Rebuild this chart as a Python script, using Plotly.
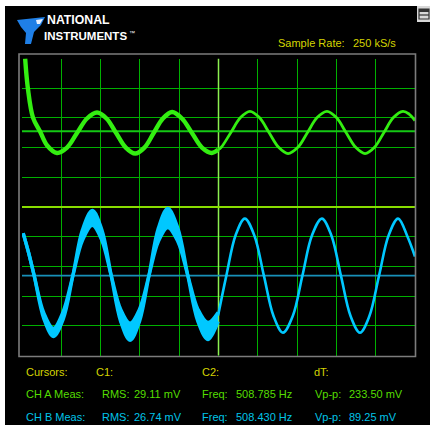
import plotly.graph_objects as go

# ---------------- data (time in ms, amplitude in screen divisions) ----------------
GREEN_L_T = [0.08, 0.15, 0.28, 0.46, 0.64, 0.89, 1.145, 1.40, 1.655, 1.91, 2.15, 2.395, 2.64, 2.88,
             3.115, 3.35, 3.585, 3.82, 4.07, 4.325, 4.58, 4.83, 4.99]
GREEN_L_V = [5.00, 3.99, 3.01, 2.54, 2.07, 1.82, 2.00, 2.49, 2.98, 3.18, 2.98, 2.49, 2.00, 1.80,
             2.00, 2.49, 2.98, 3.20, 2.98, 2.49, 2.00, 1.82, 1.93]
GREEN_R_T = [4.99, 5.07, 5.315, 5.56, 5.80, 6.04, 6.285, 6.53, 6.77, 7.02, 7.265, 7.51, 7.76, 8.00,
             8.245, 8.49, 8.73, 8.97, 9.21, 9.45, 9.69, 9.85, 10.0]
GREEN_R_V = [1.93, 2.01, 2.51, 3.01, 3.22, 3.01, 2.51, 2.01, 1.80, 2.01, 2.51, 3.01, 3.22, 3.01,
             2.51, 2.01, 1.80, 2.01, 2.51, 3.01, 3.22, 3.13, 2.91]

BLUE_L_T = [0.03, 0.17, 0.31, 0.555, 0.80, 1.045, 1.295, 1.54, 1.79, 2.03, 2.27, 2.51, 2.75, 2.99,
            3.23, 3.47, 3.71, 3.965, 4.22, 4.475, 4.73, 4.99]
BLUE_L_OUTER = [-0.88, -1.55, -2.31, -3.76, -4.36, -3.79, -2.31, -0.76, -0.12, -0.76, -2.31, -3.85,
                -4.49, -3.85, -2.31, -0.71, -0.05, -0.71, -2.31, -3.85, -4.46, -3.85]
BLUE_L_INNER = [-0.88, -1.55, -2.31, -3.57, -4.09, -3.53, -2.31, -1.12, -0.62, -1.12, -2.31, -3.44,
                -3.91, -3.44, -2.31, -1.16, -0.69, -1.16, -2.31, -3.44, -3.89, -3.55]
BLUE_R_T = [4.99, 5.20, 5.435, 5.67, 5.91, 6.155, 6.40, 6.64, 6.89, 7.135, 7.38, 7.63, 7.87, 8.115,
            8.36, 8.60, 8.84, 9.085, 9.33, 9.57, 9.81, 10.0]
BLUE_R_V = [-3.65, -2.31, -0.95, -0.39, -0.95, -2.31, -3.67, -4.23, -3.67, -2.31, -0.95, -0.39, -0.95,
            -2.31, -3.67, -4.23, -3.67, -2.31, -0.95, -0.39, -1.00, -1.67]

X_GRID = [1, 2, 3, 4, 5, 6, 7, 8, 9]
Y_GRID = [-4, -3, -2, -1, 0, 1, 2, 3, 4]
TRIGGER_T = 5.0
TRIGGER_LEVEL = 0.0
CHA_OFFSET = 2.55
CHB_OFFSET = -2.31

SAMPLE_RATE_LABEL = "Sample Rate:"
SAMPLE_RATE_VALUE = "250 kS/s"
ROW_CURSORS = ["Cursors:", "C1:", "C2:", "dT:"]
ROW_A = ["CH A Meas:", "RMS:", "29.11 mV", "Freq:", "508.785 Hz", "Vp-p:", "233.50 mV"]
ROW_B = ["CH B Meas:", "RMS:", "26.74 mV", "Freq:", "508.430 Hz", "Vp-p:", "89.25 mV"]

# ---------------- styling ----------------
W, H = 430, 425
GREEN = "#33ee11"
BLUE = "#00c8ff"
YELLOW = "#d4d400"
TXT_GREEN = "#55dd00"
TXT_CYAN = "#00c4e8"
GRID = "#00b000"
FONT = "Liberation Sans, Arial, sans-serif"


def PX(x):
    return x / W


def PY(y):
    return 1 - y / H


fig = go.Figure()
common = dict(mode="lines", hoverinfo="skip", showlegend=False)
fig.add_trace(go.Scatter(x=BLUE_L_T, y=BLUE_L_OUTER, line=dict(color=BLUE, width=3.4, shape="spline"), **common))
fig.add_trace(go.Scatter(x=BLUE_L_T, y=BLUE_L_INNER, line=dict(color=BLUE, width=3.4, shape="spline"),
                         fill="tonexty", fillcolor=BLUE, **common))
fig.add_trace(go.Scatter(x=BLUE_R_T, y=BLUE_R_V, line=dict(color=BLUE, width=2.6, shape="spline"), **common))
fig.add_trace(go.Scatter(x=GREEN_L_T, y=GREEN_L_V, line=dict(color=GREEN, width=4.4, shape="spline"), **common))
fig.add_trace(go.Scatter(x=GREEN_R_T, y=GREEN_R_V, line=dict(color=GREEN, width=2.8, shape="spline"), **common))

shapes = []
# white outer edges
shapes.append(dict(type="rect", xref="paper", yref="paper", x0=0, x1=1, y0=PY(6), y1=1,
                   fillcolor="white", line=dict(width=0), layer="above"))
shapes.append(dict(type="rect", xref="paper", yref="paper", x0=0, x1=PX(5), y0=0, y1=1,
                   fillcolor="white", line=dict(width=0), layer="above"))
# window restore box top-right
shapes.append(dict(type="rect", xref="paper", yref="paper", x0=PX(417), x1=1, y0=PY(22), y1=PY(6),
                   fillcolor="#d8d8d8", line=dict(width=0), layer="above"))
shapes.append(dict(type="rect", xref="paper", yref="paper", x0=PX(419), x1=PX(429), y0=PY(19), y1=PY(9),
                   fillcolor="rgba(0,0,0,0)", line=dict(width=1.2, color="#333333"), layer="above"))
shapes.append(dict(type="rect", xref="paper", yref="paper", x0=PX(419), x1=PX(429), y0=PY(12), y1=PY(9),
                   fillcolor="#333333", line=dict(width=0), layer="above"))
shapes.append(dict(type="line", xref="paper", yref="paper", x0=PX(419), x1=PX(429), y0=PY(15), y1=PY(15),
                   line=dict(width=1.2, color="#333333"), layer="above"))
# NI logo eagle
pts = [(17, 20), (45, 17), (41, 25), (34, 32), (31, 44), (25, 44), (26, 33), (21, 27)]
path = "M " + " L ".join(f"{PX(a):.4f},{PY(b):.4f}" for a, b in pts) + " Z"
shapes.append(dict(type="path", xref="paper", yref="paper", path=path, fillcolor="#1f7fe6",
                   line=dict(width=0), layer="above"))
pts2 = [(36, 20), (43, 19), (40, 24), (37, 24)]
path2 = "M " + " L ".join(f"{PX(a):.4f},{PY(b):.4f}" for a, b in pts2) + " Z"
shapes.append(dict(type="path", xref="paper", yref="paper", path=path2, fillcolor="#e8f0ff",
                   line=dict(width=0), layer="above"))
# markers in plot
shapes.append(dict(type="line", xref="x", yref="y", x0=TRIGGER_T, x1=TRIGGER_T, y0=-5, y1=5,
                   line=dict(color="#8cf050", width=1.5), layer="between"))
shapes.append(dict(type="line", xref="x", yref="y", x0=0, x1=10, y0=TRIGGER_LEVEL, y1=TRIGGER_LEVEL,
                   line=dict(color="#88dd00", width=2), layer="between"))
shapes.append(dict(type="line", xref="x", yref="y", x0=0, x1=10, y0=CHA_OFFSET, y1=CHA_OFFSET,
                   line=dict(color="#14c814", width=2), layer="between"))
shapes.append(dict(type="line", xref="x", yref="y", x0=0, x1=10, y0=CHB_OFFSET, y1=CHB_OFFSET,
                   line=dict(color="#1890b8", width=1.6), layer="between"))
# gray frame
shapes.append(dict(type="rect", xref="paper", yref="paper", x0=PX(19), x1=PX(415.5), y0=PY(356.5), y1=PY(54),
                   fillcolor="rgba(0,0,0,0)", line=dict(color="#7c7c7c", width=1.6), layer="above"))

ann = []


def add_text(txt, x, y, color, size=11, bold=False, yanchor="middle"):
    ann.append(dict(text=(f"<b>{txt}</b>" if bold else txt), x=PX(x), y=PY(y), xref="paper", yref="paper",
                    xanchor="left", yanchor=yanchor, showarrow=False, borderpad=0,
                    font=dict(family=FONT, size=size, color=color)))


add_text("NATIONAL", 46, 28.4, "white", 12.3, True, yanchor="bottom")
add_text("INSTRUMENTS", 43, 28.6, "white", 11.5, True, yanchor="top")
add_text("™", 128, 28.6, "white", 6, yanchor="top")
add_text(SAMPLE_RATE_LABEL, 277, 43, YELLOW)
add_text(SAMPLE_RATE_VALUE, 352, 43, YELLOW)

for t, x in zip(ROW_CURSORS, [25, 95, 201, 313]):
    add_text(t, x, 372, YELLOW)
cols = [25, 101, 133, 201, 235, 314, 348]
for t, x in zip(ROW_A, cols):
    add_text(t, x, 394, TXT_GREEN)
for t, x in zip(ROW_B, cols):
    add_text(t, x, 417, TXT_CYAN)

fig.update_layout(
    width=W, height=H, margin=dict(l=0, r=0, t=0, b=0, pad=0),
    paper_bgcolor="black", plot_bgcolor="black",
    shapes=shapes, annotations=ann,
    xaxis=dict(domain=[PX(22), PX(415)], range=[0, 10], tickvals=X_GRID, showticklabels=False,
               showgrid=True, gridcolor=GRID, gridwidth=1, zeroline=False, showline=False, ticks="",
               fixedrange=True),
    yaxis=dict(domain=[PY(355.5), PY(58.5)], range=[-5, 5], tickvals=Y_GRID, showticklabels=False,
               showgrid=True, gridcolor=GRID, gridwidth=1, zeroline=False, showline=False, ticks="",
               fixedrange=True),
)

fig.write_html("out.html", config=dict(displayModeBar=False),
               post_script="document.body.style.margin='0';document.body.style.overflow='hidden';")
